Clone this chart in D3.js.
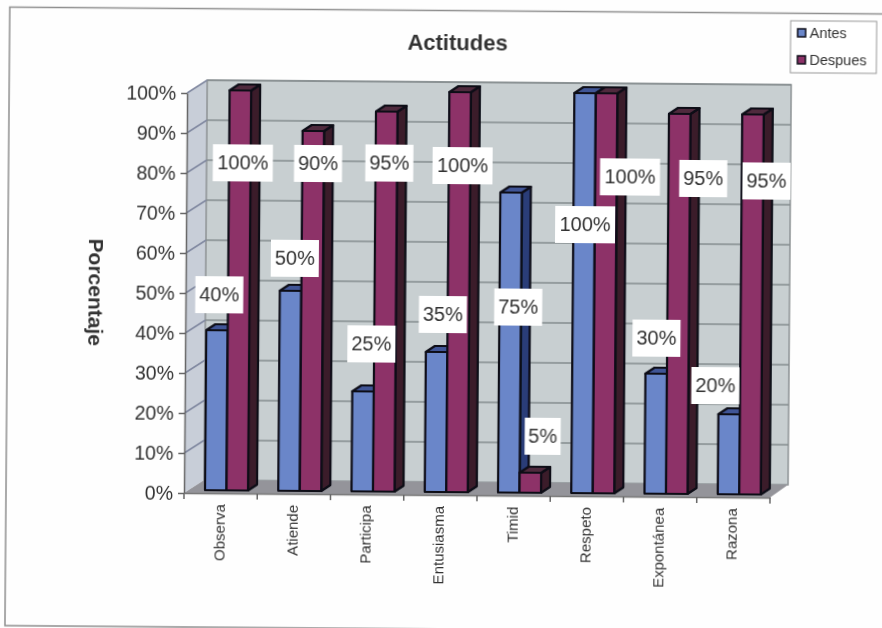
<!DOCTYPE html>
<html>
<head>
<meta charset="utf-8">
<script src="https://cdn.jsdelivr.net/npm/d3@7"></script>
<style>
html, body {margin: 0; padding: 0; background: #fefefe;}
text {font-family: "Liberation Sans", Arial, sans-serif; fill: #333;}
</style>
</head>
<body>
<div id="Visualization"></div>
<script>
const categories= ['Observa', 'Atiende', 'Participa', 'Entusiasma', 'Timid', 'Respeto', 'Expontánea', 'Razona'];
const antes= [40, 50, 25, 35, 75, 100, 30, 20];
const despues= [100, 90, 95, 100, 5, 100, 95, 95];
const seriesNames= ['Antes', 'Despues'];
const yTicks= [0, 10, 20, 30, 40, 50, 60, 70, 80, 90, 100];

//label offsets from the top of each bar, the labels were dragged by hand in the original
const antesNudge= [[2, -36], [4, -33], [8, -48], [6, -38], [8, 114], [1, 131], [0, -36], [-14, -29]];
const despuesNudge= [[3, 72], [5, 32], [3, 51], [3, 73], [12, -37], [24, 83], [24, 64], [14, 66]];

const width= 882;
const height= 628;
const wall= {dx: 20, dy: -13};
const depth= {dx: 9, dy: -6};

const colors= {
    Antes: {front: '#6b86c9', top: '#3f5596', side: '#2c3c78'},
    Despues: {front: '#8d3268', top: '#4f2a3c', side: '#3a1d2b'}
};

const svg= d3.select("#Visualization")
    .append("svg")
    .attr("width", width)
    .attr("height", height)
    .style("display", "block");

const defs= svg.append("defs");
defs.append("filter")
    .attr("id", "scan")
    .append("feGaussianBlur")
    .attr("stdDeviation", 0.5);

//the original is a scan, a bit crooked
const chart= svg.append("g")
    .attr("transform", "rotate(0.45 184 492)")
    .attr("filter", "url(#scan)");

//create scales
const x= d3.scaleBand()
    .domain(categories)
    .range([184, 770]);

const inner= d3.scaleBand()
    .domain(seriesNames)
    .range([21, 64]);

const y= d3.scaleLinear()
    .domain([0, 100])
    .range([493, 93]);

//page frame
chart.append("path")
    .attr("d", "M890,8.5H6V627H890")
    .attr("fill", "none")
    .attr("stroke", "#8f8f8f")
    .attr("stroke-width", 1.5);

//walls and floor
const left= x.range()[0];
const right= x.range()[1];
const backRight= right+ 18;
chart.append("polygon")
    .attr("points", [[left, y(0)], [left+ wall.dx, y(0)+ wall.dy], [left+ wall.dx, y(100)+ wall.dy], [left, y(100)]].join(" "))
    .attr("fill", "#c8ced8");
chart.append("rect")
    .attr("x", left+ wall.dx)
    .attr("y", y(100)+ wall.dy)
    .attr("width", backRight- left- wall.dx)
    .attr("height", y(0)- y(100))
    .attr("fill", "#c8cfd1")
    .attr("stroke", "#8d9294")
    .attr("stroke-width", 1.5);
chart.append("polygon")
    .attr("points", [[left, y(0)], [left+ wall.dx, y(0)+ wall.dy], [backRight, y(0)+ wall.dy], [right, y(0)]].join(" "))
    .attr("fill", "#94949a");

//gridlines
const grid= chart.append("g");
grid.selectAll(".back")
    .data(yTicks.slice(1))
    .enter().append("line")
    .attr("x1", left+ wall.dx)
    .attr("x2", backRight)
    .attr("y1", d=> y(d)+ wall.dy)
    .attr("y2", d=> y(d)+ wall.dy)
    .attr("stroke", "#848c8e")
    .attr("stroke-width", 1.5);
grid.selectAll(".side")
    .data(yTicks.slice(1))
    .enter().append("line")
    .attr("x1", left)
    .attr("x2", left+ wall.dx)
    .attr("y1", d=> y(d))
    .attr("y2", d=> y(d)+ wall.dy)
    .attr("stroke", "#8088a0")
    .attr("stroke-width", 1.5);

//add bars, one category at a time so the depth overlaps right
function addBar(g, name, category, value) {
    const x0= x(category)+ inner(name);
    const x1= x0+ inner.bandwidth();
    const top= y(value)- 3;
    const bottom= y(0)- 3;
    const c= colors[name];
    const bar= g.append("g");
    bar.append("polygon")
        .attr("points", [[x1, bottom], [x1+ depth.dx, bottom+ depth.dy], [x1+ depth.dx, top+ depth.dy], [x1, top]].join(" "))
        .attr("fill", c.side);
    bar.append("polygon")
        .attr("points", [[x0, top], [x0+ depth.dx, top+ depth.dy], [x1+ depth.dx, top+ depth.dy], [x1, top]].join(" "))
        .attr("fill", c.top);
    bar.append("rect")
        .attr("x", x0)
        .attr("y", top)
        .attr("width", x1- x0)
        .attr("height", bottom- top)
        .attr("fill", c.front);
    bar.selectAll("polygon, rect")
        .attr("stroke", "#0c0c18")
        .attr("stroke-width", 2.2)
        .attr("stroke-linejoin", "round");
}

categories.forEach((c, i)=> {
    const g= chart.append("g").attr("class", "group");
    addBar(g, 'Antes', c, antes[i]);
    addBar(g, 'Despues', c, despues[i]);
});

//add y-axis
const yAxis= chart.append("g")
    .attr("transform", `translate(${left}, 0)`)
    .call(d3.axisLeft(y).tickValues(yTicks).tickFormat(d=> d+ "%").tickSize(6).tickSizeOuter(0));
yAxis.selectAll("text").style("font-size", "19.5px").attr("x", -11);
yAxis.selectAll("path, line").attr("stroke", "#666").attr("stroke-width", 1.5);

//add x-axis, ticks sit between the categories
const xAxis= chart.append("g")
    .attr("transform", `translate(0, ${y(0)})`)
    .call(d3.axisBottom(x).tickSize(0).tickSizeOuter(0));
xAxis.select(".domain").attr("stroke", "#777").attr("stroke-width", 1.5);
xAxis.selectAll("text")
    .style("font-size", "15px")
    .attr("text-anchor", "end")
    .attr("dy", 0)
    .attr("y", 0)
    .attr("transform", "translate(0, 11) rotate(-90)")
    .attr("dominant-baseline", "middle");
chart.append("g")
    .selectAll("line")
    .data(categories.map(c=> x(c)).concat(right))
    .enter().append("line")
    .attr("x1", d=> d)
    .attr("x2", d=> d)
    .attr("y1", y(0))
    .attr("y2", y(0)+ 6)
    .attr("stroke", "#666")
    .attr("stroke-width", 1.5);

//data labels
function addLabels(name, values, nudge) {
    const labels= chart.append("g")
        .selectAll("g")
        .data(values)
        .enter().append("g")
        .attr("transform", (d, i)=> {
            const cx= x(categories[i])+ inner(name)+ inner.bandwidth()/ 2+ nudge[i][0];
            const cy= y(d)- 3+ nudge[i][1];
            return `translate(${cx}, ${cy})`;
        });
    labels.append("rect")
        .attr("x", d=> -(d=== 100 ? 30 : d< 10 ? 18 : 24))
        .attr("width", d=> d=== 100 ? 60 : d< 10 ? 36 : 48)
        .attr("y", -18)
        .attr("height", 37)
        .attr("fill", "#fff");
    labels.append("text")
        .attr("text-anchor", "middle")
        .attr("dy", "0.36em")
        .style("font-size", "20px")
        .text(d=> d+ "%");
}
addLabels('Antes', antes, antesNudge);
addLabels('Despues', despues, despuesNudge);

//titles
chart.append("text")
    .attr("x", 454)
    .attr("y", 48)
    .attr("text-anchor", "middle")
    .style("font-size", "22px")
    .style("font-weight", "bold")
    .text("Actitudes");
chart.append("text")
    .attr("transform", "translate(87, 293) rotate(90)")
    .attr("text-anchor", "middle")
    .style("font-size", "21px")
    .style("font-weight", "bold")
    .text("Porcentaje");

//legend
const legend= chart.append("g")
    .attr("transform", "translate(787, 16)");
legend.append("rect")
    .attr("width", 86)
    .attr("height", 52)
    .attr("fill", "#fff")
    .attr("stroke", "#999")
    .attr("stroke-width", 1);
const rows= legend.selectAll(".row")
    .data(seriesNames)
    .enter().append("g")
    .attr("transform", (d, i)=> `translate(7, ${8+ i* 27})`);
rows.append("rect")
    .attr("width", 8)
    .attr("height", 8)
    .attr("fill", d=> colors[d].front)
    .attr("stroke", "#0c0c18")
    .attr("stroke-width", 1.5);
rows.append("text")
    .attr("x", 12)
    .attr("y", 9)
    .style("font-size", "14.5px")
    .text(d=> d);
</script>
</body>
</html>
